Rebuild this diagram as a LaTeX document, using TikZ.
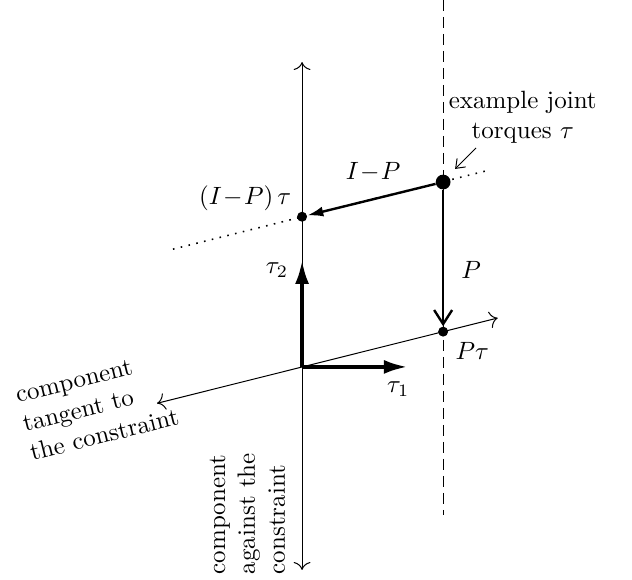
\documentclass[tikz,border=0pt]{standalone}
\usepackage{amsmath}
\usetikzlibrary{arrows.meta, calc, positioning}

\begin{document}
\begin{tikzpicture}[scale=1,
    axisline/.style={line width=0.5pt, {To[length=4pt]}-{To[length=4pt]}},
    basisvec/.style={line width=2pt, -{Latex[length=12pt, width=7pt]}},
    bigdot/.style={circle, fill=black, inner sep=0pt, minimum size=7.4pt},
    smalldot/.style={circle, fill=black, inner sep=0pt, minimum size=5pt},
    lbl/.style={scale=1.25}]

    %% Frame (keeps the margins)
    \useasboundingbox (-5.31,-3.74) rectangle (5.80,6.45);

    %% Origin
    \coordinate (O) at (0,0);

    %% --- Axes ---
    \coordinate (Vtop) at (0,5.36);
    \coordinate (Vbot) at (0,-3.57);
    \coordinate (Tleft) at (-2.55,-0.64);
    \coordinate (Tright) at (3.44,0.86);
    \draw[axisline] (Vbot) -- (Vtop);
    \draw[axisline] (Tleft) -- (Tright);

    %% --- Dashed vertical through tau ---
    \coordinate (Dtop) at (2.48,6.45);
    \coordinate (Dbot) at (2.48,-2.60);
    \draw[line width=0.6pt, dash pattern=on 5.5pt off 3pt] (Dtop) -- (Dbot);

    %% --- Points ---
    \node[bigdot] (tau) at (2.48,3.25) {};
    \node[smalldot] (IPtau) at (0,2.64) {};
    \node[smalldot] (Ptau) at (2.48,0.62) {};

    %% --- Dotted line parallel to the constraint ---
    \coordinate (Dleft) at (-2.27,2.07);
    \coordinate (Dright) at (3.25,3.45);
    \draw[line width=0.8pt, dash pattern=on 0.8pt off 3.2pt] (Dleft) -- (Dright);

    %% --- Basis vectors ---
    \coordinate (E1) at (1.86,0);
    \coordinate (E2) at (0,1.88);
    \draw[basisvec] (O) -- (E1);
    \draw[basisvec] (O) -- (E2);

    %% --- Projections ---
    \draw[line width=1.2pt, -{Latex[length=8pt, width=5pt]}] (tau) -- (IPtau);
    \draw[line width=1.2pt, -{Straight Barb[length=7pt, width=9pt]}] (tau) -- (Ptau);

    %% Labels
    \node[lbl] (lIP) at (1.25,3.43) {$I\!-\!P$};
    \node[lbl] (lP) at (2.97,1.70) {$P$};
    \node[lbl] (lIPtau) at (-1.00,2.97) {$(I\!-\!P)\,\tau$};
    \node[lbl] (lPtau) at (2.99,0.28) {$P\tau$};
    \node[lbl] (ltau1) at (1.69,-0.39) {$\tau_1$};
    \node[lbl] (ltau2) at (-0.44,1.70) {$\tau_2$};
    \node[lbl, align=center] (lex) at (3.88,4.39) {example joint\\torques $\tau$};
    \node[lbl, align=left, rotate=14] (ltan) at (-3.60,-0.69) {component\\tangent to\\the constraint};
    \node[lbl, align=left, rotate=90] (lagn) at (-0.96,-2.58) {component\\against the\\constraint};

    %% Pointer to the example
    \coordinate (Ps) at (3.06,3.85);
    \coordinate (Pe) at (2.69,3.48);
    \draw[line width=0.5pt, -{Straight Barb[length=4pt, width=6pt]}] (Ps) -- (Pe);

\end{tikzpicture}
\end{document}
